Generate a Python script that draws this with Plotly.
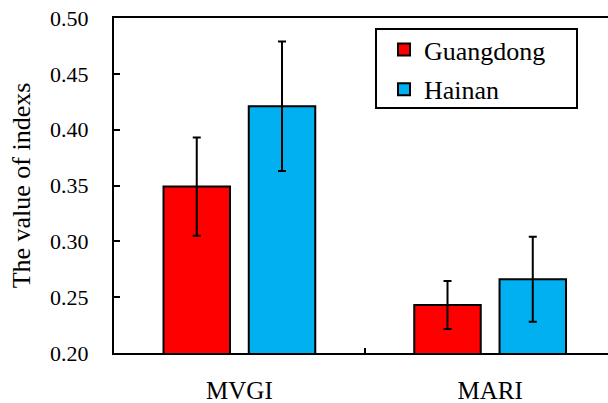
import plotly.graph_objects as go

categories = ["MVGI", "MARI"]
guangdong = [0.349, 0.243]
guangdong_err = [0.044, 0.0215]
hainan = [0.421, 0.266]
hainan_err = [0.058, 0.038]
y_ticks = [0.20, 0.25, 0.30, 0.35, 0.40, 0.45, 0.50]

FONT = "Liberation Serif"

W, H = 608, 403
L, T, B, R = 114, 18, 50, 0
PW = W - L - R
PH = H - T - B

fig = go.Figure()
fig.add_trace(go.Bar(
    name="Guangdong", x=categories, y=guangdong,
    marker=dict(color="#FF0000", line=dict(color="black", width=2)),
    error_y=dict(type="data", array=guangdong_err, color="black", thickness=2, width=4),
    legendgroup="g1",
))
fig.add_trace(go.Bar(
    name="Hainan", x=categories, y=hainan,
    marker=dict(color="#00B0F0", line=dict(color="black", width=2)),
    error_y=dict(type="data", array=hainan_err, color="black", thickness=2, width=4),
    legendgroup="g2",
))

fig.update_layout(
    width=W, height=H,
    margin=dict(l=L, r=R, t=T, b=B, pad=0, autoexpand=False),
    paper_bgcolor="white", plot_bgcolor="white",
    font=dict(family=FONT, size=22, color="black"),
    barmode="group", bargap=0.32, bargroupgap=0.22,
    showlegend=True,
    hovermode=False,
    legend=dict(
        x=(384 - 114) / PW, y=(353 - 26) / PH, xanchor="left", yanchor="top",
        bgcolor="rgba(0,0,0,0)", borderwidth=0,
        font=dict(family=FONT, size=26, color="black"),
        tracegroupgap=3,
    ),
    xaxis=dict(
        type="category", range=[-0.5, 1.47], automargin=False,
        showline=True, linecolor="black", linewidth=2, mirror=True,
        ticks="inside", tickson="boundaries", ticklen=5, tickwidth=2, tickcolor="black",
        showgrid=False, zeroline=False,
        ticklabelstandoff=14,
        tickfont=dict(family=FONT, size=25, color="black"),
    ),
    yaxis=dict(
        range=[0.20, 0.50], tickvals=y_ticks, ticktext=[f"{v:.2f}" for v in y_ticks],
        automargin=False,
        showline=True, linecolor="black", linewidth=2, mirror=False,
        ticks="inside", ticklen=6, tickwidth=2, tickcolor="black",
        showgrid=False, zeroline=False,
        ticklabelstandoff=19,
        tickfont=dict(family=FONT, size=22, color="black"),
        title=dict(text="The value of indexs", standoff=12,
                   font=dict(family=FONT, size=26, color="black")),
    ),
    shapes=[dict(
        type="rect", xref="paper", yref="paper",
        x0=(376 - 114) / PW, x1=(577 - 114) / PW,
        y0=(353 - 108) / PH, y1=(353 - 29) / PH,
        line=dict(color="black", width=2), fillcolor="rgba(0,0,0,0)", layer="above",
    )],
)

fig.write_html(
    "out.html",
    config={"displayModeBar": False, "staticPlot": True},
    post_script="document.body.style.margin='0';document.body.style.padding='0';document.body.style.overflow='hidden';",
)
